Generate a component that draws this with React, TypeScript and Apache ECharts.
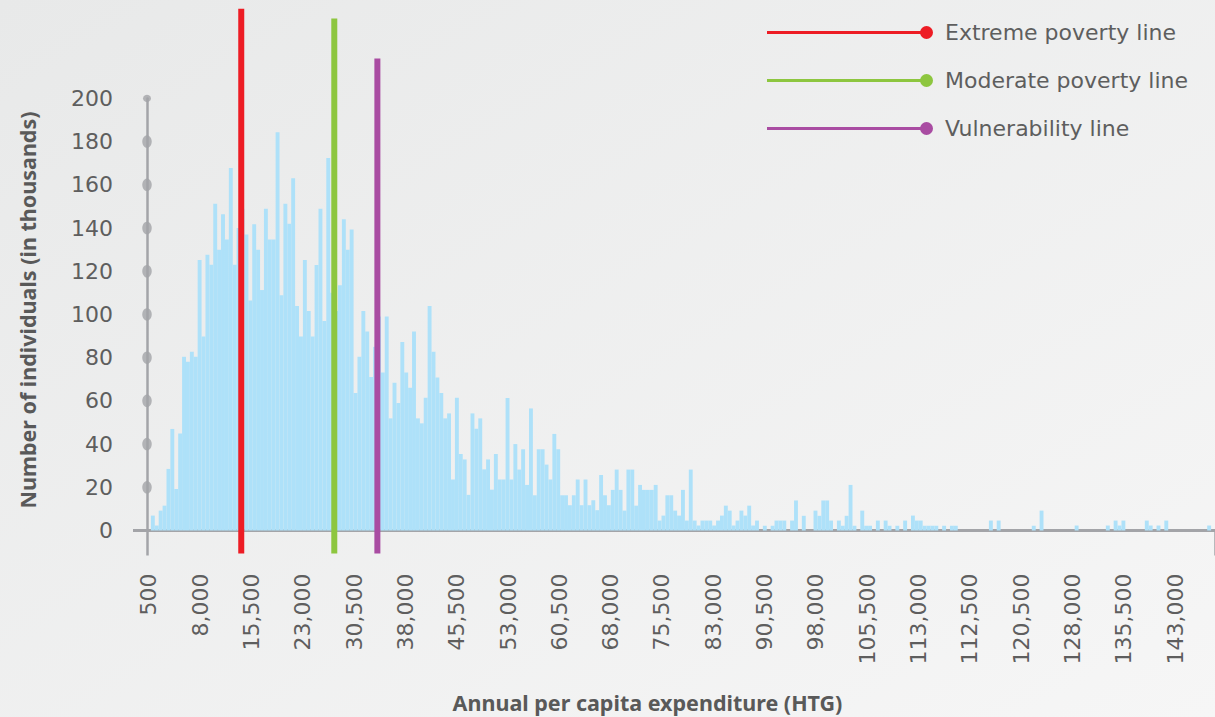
import React, { useEffect, useRef } from 'react';
import * as echarts from 'echarts';

// Histogram bin heights (individuals, thousands), left to right
const binCounts: number[] = [
  0, 6.9, 2.3, 9.2, 11.5, 28.5, 47, 19.2, 44.9, 80.4,
  78.1, 82.7, 80.4, 125.2, 89.8, 127.6, 123, 151.2, 129.9, 146.4,
  134.7, 167.8, 123, 140, 148.9, 137, 106.4, 141.8, 129.9, 111.3,
  148.9, 134.7, 134.7, 184.3, 108.9, 151.2, 142, 163, 103.9, 89.8,
  125.2, 101.6, 89.8, 122.9, 148.9, 97, 172.4, 110, 101.6, 113.5,
  144.1, 129.9, 139.3, 63.7, 80.4, 101.6, 92.1, 71, 85, 99,
  73.1, 99, 51.9, 68.4, 59, 87.3, 73.1, 66.1, 92.1, 51.9,
  49.6, 61.4, 103.9, 82.7, 70.8, 63.7, 51.9, 54.2, 23.6, 61.4,
  35.4, 32.9, 16.5, 54.2, 47.1, 51.9, 28.3, 32.9, 18.9, 35.4,
  23.6, 23.6, 61.3, 23.6, 40, 28.2, 37.6, 21.1, 56.5, 16.3,
  37.6, 37.6, 30.5, 23.6, 44.7, 37.6, 16.3, 16.3, 11.7, 16.3,
  23.6, 11.7, 23.6, 11.7, 14, 9.4, 25.7, 16.3, 11.7, 18.8,
  28.2, 18.8, 9.2, 28.2, 28.2, 11.5, 21.1, 18.8, 18.8, 18.8,
  21.1, 4.6, 6.9, 16.3, 16.3, 9.2, 6.9, 18.8, 4.6, 28.2,
  4.6, 2.3, 4.6, 4.6, 4.6, 2.3, 4.6, 6.9, 11.5, 9.2,
  2.3, 4.6, 9.2, 6.9, 11.5, 2.3, 4.6, 0, 2.2, 0,
  2.2, 4.6, 4.6, 4.6, 0, 4.6, 13.9, 0, 6.8, 0,
  0, 9.2, 6.8, 13.9, 13.9, 4.6, 0, 4.6, 2.2, 6.8,
  21.1, 2.2, 0, 9.2, 2.2, 2.2, 0, 4.6, 0, 4.6,
  2.2, 0, 2.2, 0, 4.6, 0, 6.9, 4.6, 4.6, 2.2,
  2.2, 2.2, 2.2, 0, 2.2, 0, 2.2, 2.2, 0, 0,
  0, 0, 0, 0, 0, 0, 4.6, 0, 4.6, 0,
  0, 0, 0, 0, 0, 0, 0, 2.2, 0, 9.2,
  0, 0, 0, 0, 0, 0, 0, 0, 2.3, 0,
  0, 0, 0, 0, 0, 0, 2.3, 0, 4.6, 2.3,
  4.6, 0, 0, 0, 0, 0, 4.6, 2.3, 0, 2.3,
  0, 4.6, 0, 0, 0, 0, 0, 0, 0, 0,
  0, 0, 2.3, 0,
];
const binIds: string[] = binCounts.map((_, i) => `bin ${i + 1}`);

// X tick positions (HTG, evenly spaced) and the labels printed at them in the source
const xTickValues: number[] = [
  500, 8000, 15500, 23000, 30500, 38000, 45500, 53000, 60500, 68000, 75500,
  83000, 90500, 98000, 105500, 113000, 120500, 128000, 135500, 143000, 150500,
];
const xTickLabels: string[] = [
  '500', '8,000', '15,500', '23,000', '30,500', '38,000', '45,500', '53,000', '60,500', '68,000', '75,500',
  '83,000', '90,500', '98,000', '105,500', '113,000', '112,500', '120,500', '128,000', '135,500', '143,000',
];

// Y axis marker dots
const yDotValues: number[] = [20, 40, 60, 80, 100, 120, 140, 160, 180, 200];

// Reference lines (HTG) and the vertical extent of each drawn line (in thousands)
const lineNames: string[] = ['Extreme poverty line', 'Moderate poverty line', 'Vulnerability line'];
const lineValues: number[] = [14000, 27600, 33900];
const lineTops: number[] = [241.5, 237, 218.5];
const lineBottom = -10.6;

const lineColors = ['#ed1c24', '#8dc63f', '#a94ca2'];
const AXIS_GRAY = '#a3a4a8';
const TEXT_GRAY = '#5e5e5e';
const FONT = "'DejaVu Sans', sans-serif";
const TITLE_FONT = "'Noto Sans', sans-serif";

export default function App() {
  const ref = useRef<HTMLDivElement>(null);

  useEffect(() => {
    if (!ref.current) return;
    const chart = echarts.init(ref.current, undefined, { renderer: 'svg' });

    const option: any = {
      animation: false,
      backgroundColor: new echarts.graphic.LinearGradient(0, 0, 1, 1, [
        { offset: 0, color: '#e8e9e9' },
        { offset: 1, color: '#f6f6f6' },
      ]),
      grid: [
        { left: 147, right: 0, top: 98.4, bottom: 186.5 },
        { left: 148.9, right: 40, top: 98.4, bottom: 186.5 },
      ],
      legend: {
        orient: 'vertical',
        left: 762,
        top: 16.5,
        itemWidth: 166,
        itemHeight: 13,
        itemGap: 26,
        selectedMode: false,
        icon: 'path://M0,5 L160,5 L160,8 L0,8 Z M153.5,6.5 A6.5,6.5 0 1 1 166.5,6.5 A6.5,6.5 0 1 1 153.5,6.5 Z',
        data: lineNames,
        textStyle: { fontFamily: FONT, fontSize: 22, color: TEXT_GRAY, padding: [0, 0, 0, 7] },
      },
      xAxis: [
        {
          gridIndex: 0,
          type: 'category',
          data: binIds,
          boundaryGap: true,
          axisLine: { show: true, lineStyle: { color: AXIS_GRAY, width: 3 } },
          axisTick: {
            show: true,
            interval: (i: number) => i === 0,
            length: 25,
            lineStyle: { color: AXIS_GRAY, width: 2.5 },
          },
          axisLabel: { show: false },
          splitLine: { show: false },
        },
        {
          gridIndex: 0,
          type: 'value',
          position: 'top',
          min: 0,
          max: 1,
          show: false,
        },
        {
          gridIndex: 1,
          type: 'value',
          min: xTickValues[0],
          max: xTickValues[xTickValues.length - 1],
          axisLine: { show: false },
          axisTick: { show: false },
          splitLine: { show: false },
          axisLabel: {
            customValues: xTickValues,
            showMinLabel: true,
            showMaxLabel: true,
            rotate: 90,
            margin: 43,
            fontFamily: FONT,
            fontSize: 22,
            color: TEXT_GRAY,
            formatter: (v: number) => {
              const idx = xTickValues.indexOf(v);
              return idx >= 0 ? xTickLabels[idx] : '';
            },
          },
        },
      ],
      yAxis: [
        {
          gridIndex: 0,
          type: 'value',
          min: 0,
          max: 200,
          interval: 20,
          axisLine: { show: true, lineStyle: { color: AXIS_GRAY, width: 2.5 } },
          axisTick: { show: true, customValues: [0], length: 14, lineStyle: { color: AXIS_GRAY, width: 3 } },
          axisLabel: { margin: 34, fontFamily: FONT, fontSize: 22, color: TEXT_GRAY },
          splitLine: { show: false },
        },
        { gridIndex: 1, type: 'value', min: 0, max: 200, show: false },
      ],
      series: [
        {
          type: 'bar',
          name: 'Individuals',
          xAxisIndex: 0,
          yAxisIndex: 0,
          data: binCounts,
          barCategoryGap: '0%',
          itemStyle: { color: '#aee1f9' },
          silent: true,
          z: 1,
        },
        {
          type: 'scatter',
          xAxisIndex: 1,
          yAxisIndex: 0,
          data: yDotValues.map((v) => [0, v]),
          symbol: 'circle',
          symbolSize: (val: number[]) => (val[1] === 200 ? [8, 7] : [9.5, 12.5]),
          itemStyle: { color: AXIS_GRAY },
          clip: false,
          silent: true,
          z: 6,
        },
        ...lineNames.map((name, i) => ({
          type: 'line',
          name,
          xAxisIndex: 2,
          yAxisIndex: 1,
          data: [
            [lineValues[i], lineBottom],
            [lineValues[i], lineTops[i]],
          ],
          symbol: 'none',
          clip: false,
          color: lineColors[i],
          lineStyle: { color: lineColors[i], width: 6 },
          itemStyle: { color: lineColors[i] },
          silent: true,
          z: 10,
        })),
      ],
      graphic: [
        {
          type: 'text',
          x: 27.5,
          y: 310,
          rotation: Math.PI / 2,
          style: {
            text: 'Number of individuals (in thousands)',
            fontFamily: TITLE_FONT,
            fontWeight: 'bold',
            fontSize: 21.5,
            fill: '#595959',
            textAlign: 'center',
            textVerticalAlign: 'middle',
          },
        },
        {
          type: 'text',
          x: 647.5,
          y: 702,
          style: {
            text: 'Annual per capita expenditure (HTG)',
            fontFamily: TITLE_FONT,
            fontWeight: 'bold',
            fontSize: 21.5,
            fill: '#595959',
            textAlign: 'center',
            textVerticalAlign: 'middle',
          },
        },
      ],
    };
    chart.setOption(option);
    return () => chart.dispose();
  }, []);

  return (
    <div
      ref={ref}
      style={{ position: 'fixed', left: 0, top: 0, width: 1215, height: 717 }}
    />
  );
}
